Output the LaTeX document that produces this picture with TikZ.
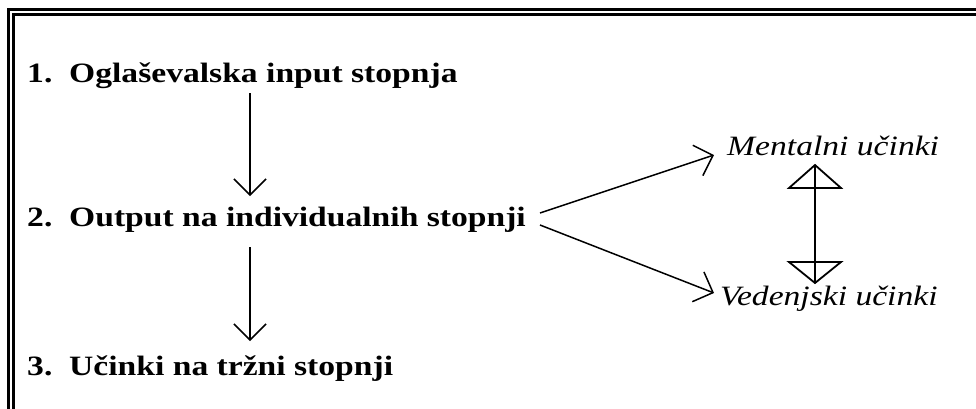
\documentclass[tikz,border=0pt]{standalone}
\usepackage{fontspec}
\setmainfont{Liberation Serif}[FakeStretch=1.2]
\usetikzlibrary{arrows.meta}
\tikzset{
  stage/.style={anchor=base west, inner sep=0pt, font=\fontsize{28}{34}\selectfont\bfseries},
  effect/.style={anchor=base west, inner sep=0pt, font=\fontsize{28}{34}\selectfont\itshape},
  arr/.style={line width=1.5pt, -{Straight Barb[length=16pt,width=32pt,line width=1.5pt]}},
  frameline/.style={line width=2.6pt},
  tri/.style={line width=1.8pt, line join=miter}
}
\begin{document}
\begin{tikzpicture}[x=1pt,y=-1pt]
\useasboundingbox (0,0) rectangle (976,408);
\clip (0,0) rectangle (976,408);
% frame (double line, right and bottom cut off)
\draw[frameline] (8.7,420) -- (8.7,9.5) -- (990,9.5);
\draw[frameline] (13.7,420) -- (13.7,14.7) -- (990,14.7);
% stages
\node[stage] (t1) at (27,82) {1.\ \ Oglaševalska input stopnja};
\node[stage] (t2) at (27,226) {2.\ \ Output na individualnih stopnji};
\node[stage] (t3) at (27,375) {3.\ \ Učinki na tržni stopnji};
% effects
\node[effect] (m) at (727,155) {Mentalni učinki};
\node[effect] (v) at (720,305) {Vedenjski učinki};
% connector endpoints
\coordinate (a1s) at (250,93);
\coordinate (a1e) at (250,196);
\coordinate (a2s) at (250,247);
\coordinate (a2e) at (250,341);
\coordinate (d0u) at (540,213);
\coordinate (d0d) at (540,225);
\coordinate (dmu) at (714,155);
\coordinate (dvd) at (714,293);
\draw[arr] (a1s) -- (a1e);
\draw[arr] (a2s) -- (a2e);
\draw[arr] (d0u) -- (dmu);
\draw[arr] (d0d) -- (dvd);
% double arrow between effects
\coordinate (bt) at (815,165);
\coordinate (bb) at (815,283);
\draw[line width=1.8pt] (bt) -- (bb);
\draw[tri] (bt) -- (789,188) -- (841,188) -- cycle;
\draw[tri] (bb) -- (789,262) -- (841,262) -- cycle;
\end{tikzpicture}
\end{document}
